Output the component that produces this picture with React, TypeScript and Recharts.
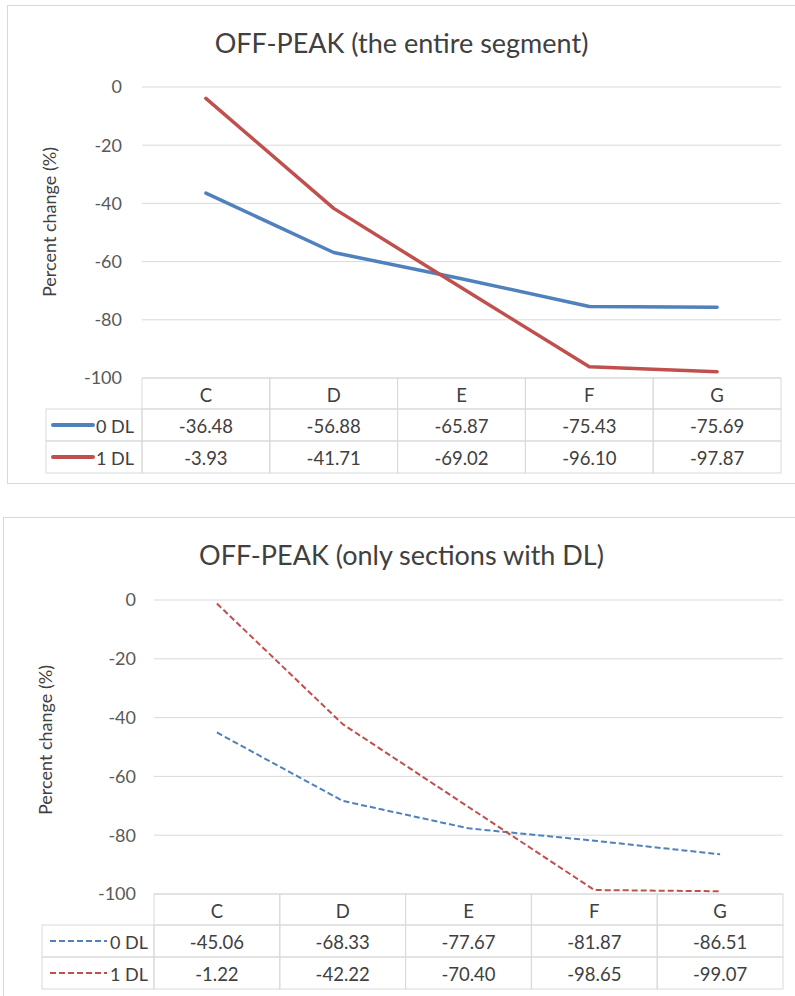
import { LineChart, Line, XAxis, YAxis, CartesianGrid } from 'recharts';

const FONT = 'Lato, "Open Sans", sans-serif';
const BLUE = '#4F81BD';
const RED = '#C0504D';
const GRID = '#d9d9d9';
const TEXT = '#404040';
const TICK = '#595959';

const CATEGORIES = ['C', 'D', 'E', 'F', 'G'];
const SERIES_NAMES = ['0 DL', '1 DL'];
const Y_TICKS = [0, -20, -40, -60, -80, -100];

// OFF-PEAK, the entire segment
const ENTIRE_0DL = [-36.48, -56.88, -65.87, -75.43, -75.69];
const ENTIRE_1DL = [-3.93, -41.71, -69.02, -96.1, -97.87];

// OFF-PEAK, only sections with DL
const WITHDL_0DL = [-45.06, -68.33, -77.67, -81.87, -86.51];
const WITHDL_1DL = [-1.22, -42.22, -70.4, -98.65, -99.07];

const W = 795;

interface Layout {
  svgTop: number;
  height: number;
  margin: { top: number; right: number; bottom: number; left: number };
  yAxisWidth: number;
  tickGap: number;
  legendW: number;
  legendTextPad: number;
  labelX: number;
  labelY: number;
  titleTop: number;
  box: { left: number; top: number; width: number; height: number; bottom: boolean };
}

const TOP_LAYOUT: Layout = {
  svgTop: 0,
  height: 490,
  margin: { top: 87, right: 14, bottom: 12, left: 0 },
  yAxisWidth: 142,
  tickGap: 20,
  legendW: 96,
  legendTextPad: 8,
  labelX: 56,
  labelY: 222,
  titleTop: 30,
  box: { left: 7, top: 5, width: 788, height: 479, bottom: true },
};

const BOTTOM_LAYOUT: Layout = {
  svgTop: 500,
  height: 496,
  margin: { top: 100, right: 12, bottom: 2, left: 0 },
  yAxisWidth: 154,
  tickGap: 18,
  legendW: 112,
  legendTextPad: 6,
  labelX: 52,
  labelY: 240,
  titleTop: 542,
  box: { left: 3, top: 517, width: 792, height: 479, bottom: false },
};

const ROW_H = [31, 32, 32];

function OffPeakChart({
  title,
  s0,
  s1,
  dashed,
  L,
}: {
  title: string;
  s0: number[];
  s1: number[];
  dashed: boolean;
  L: Layout;
}) {
  const data = CATEGORIES.map((c, i) => ({ cat: c, a: s0[i], b: s1[i] }));
  const plotLeft = L.margin.left + L.yAxisWidth;
  const plotW = W - plotLeft - L.margin.right;
  const bw = plotW / CATEGORIES.length;
  const lineW = dashed ? 2 : 3.5;
  const dash = dashed ? '6 3' : undefined;

  // each x tick draws one column of the data table (header + both series)
  const TableTick = (props: any) => {
    const { x, y, payload } = props;
    const i = CATEGORIES.indexOf(payload.value);
    const left = x - bw / 2;
    const texts = [payload.value, s0[i].toFixed(2), s1[i].toFixed(2)];
    let ty = y;
    const cells: any[] = [];
    texts.forEach((t, r) => {
      const h = ROW_H[r];
      cells.push(
        <g key={r}>
          <rect x={left} y={ty} width={bw} height={h} fill="none" stroke={GRID} strokeWidth={1} />
          <text
            x={x}
            y={ty + h / 2 + 1}
            textAnchor="middle"
            dominantBaseline="central"
            fontSize={18.5}
            fontFamily={FONT}
            fill={TEXT}
          >
            {t}
          </text>
        </g>
      );
      if (i === 0 && r > 0) {
        const cl = left - L.legendW;
        const color = r === 1 ? BLUE : RED;
        cells.push(
          <g key={'lg' + r}>
            <rect x={cl} y={ty} width={L.legendW} height={h} fill="none" stroke={GRID} strokeWidth={1} />
            <line
              x1={cl + (dashed ? 8 : 7)}
              x2={left - L.legendTextPad - 41}
              y1={ty + h / 2}
              y2={ty + h / 2}
              stroke={color}
              strokeWidth={dashed ? 2 : 4}
              strokeDasharray={dash}
              strokeLinecap={dashed ? 'butt' : 'round'}
            />
            <text
              x={left - L.legendTextPad}
              y={ty + h / 2 + 1}
              textAnchor="end"
              dominantBaseline="central"
              fontSize={18}
              fontFamily={FONT}
              fill={TEXT}
            >
              {SERIES_NAMES[r - 1]}
            </text>
          </g>
        );
      }
      ty += h;
    });
    return <g>{cells}</g>;
  };

  return (
    <>
      <div
        style={{
          position: 'absolute',
          left: L.box.left,
          top: L.box.top,
          width: L.box.width,
          height: L.box.height,
          boxSizing: 'border-box',
          borderTop: `1px solid ${GRID}`,
          borderLeft: `1px solid ${GRID}`,
          borderBottom: L.box.bottom ? `1px solid ${GRID}` : 'none',
        }}
      />
      <div
        style={{
          position: 'absolute',
          left: 0,
          width: W,
          top: L.titleTop,
          textAlign: 'center',
          fontFamily: FONT,
          fontSize: 27,
          lineHeight: '26px',
          color: TEXT,
          paddingLeft: 8,
          boxSizing: 'border-box',
          whiteSpace: 'nowrap',
        }}
      >
        {title}
      </div>
      <div style={{ position: 'absolute', left: 0, top: L.svgTop }}>
        <LineChart width={W} height={L.height} data={data} margin={L.margin}>
          <CartesianGrid vertical={false} stroke={GRID} strokeWidth={1} />
          <XAxis
            dataKey="cat"
            height={100}
            padding={{ left: bw / 2, right: bw / 2 }}
            axisLine={false}
            tickLine={false}
            tickSize={0}
            tickMargin={0}
            interval={0}
            tick={TableTick}
          />
          <YAxis
            width={L.yAxisWidth}
            domain={[-100, 0]}
            ticks={Y_TICKS}
            axisLine={false}
            tickLine={false}
            tickSize={0}
            tickMargin={L.tickGap}
            tick={{ fill: TICK, fontSize: 18, fontFamily: FONT }}
            label={{
              content: () => (
                <text
                  transform={`translate(${L.labelX},${L.labelY}) rotate(-90)`}
                  textAnchor="middle"
                  fontSize={18}
                  fontFamily={FONT}
                  fill={TEXT}
                >
                  Percent change (%)
                </text>
              ),
            }}
          />
          <Line
            type="linear"
            dataKey="a"
            stroke={BLUE}
            strokeWidth={lineW}
            strokeDasharray={dash}
            strokeLinecap={dashed ? 'butt' : 'round'}
            strokeLinejoin="round"
            dot={false}
            activeDot={false}
            isAnimationActive={false}
          />
          <Line
            type="linear"
            dataKey="b"
            stroke={RED}
            strokeWidth={lineW}
            strokeDasharray={dash}
            strokeLinecap={dashed ? 'butt' : 'round'}
            strokeLinejoin="round"
            dot={false}
            activeDot={false}
            isAnimationActive={false}
          />
        </LineChart>
      </div>
    </>
  );
}

export default function App() {
  return (
    <div style={{ position: 'absolute', left: 0, top: 0, width: W, height: 996, overflow: 'hidden' }}>
      <OffPeakChart title="OFF-PEAK (the entire segment)" s0={ENTIRE_0DL} s1={ENTIRE_1DL} dashed={false} L={TOP_LAYOUT} />
      <OffPeakChart
        title="OFF-PEAK (only sections with DL)"
        s0={WITHDL_0DL}
        s1={WITHDL_1DL}
        dashed={true}
        L={BOTTOM_LAYOUT}
      />
    </div>
  );
}
